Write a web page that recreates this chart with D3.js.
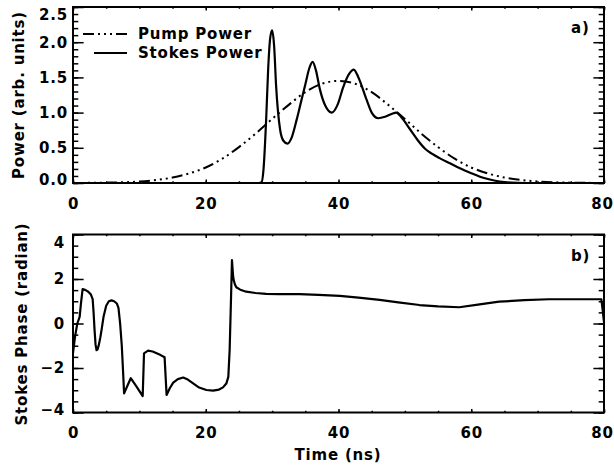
<!DOCTYPE html>
<html>
<head>
<meta charset="utf-8">
<script src="https://cdn.jsdelivr.net/npm/d3@7"></script>
<style>
  body { margin: 0; background: #fff; }
  svg text { font-family: "DejaVu Sans", sans-serif; font-weight: bold; font-size: 15px; letter-spacing: 0.8px; fill: #000; }
</style>
</head>
<body>
<svg id="chart" width="614" height="468"></svg>
<script>
var W = 614, H = 468;

// panel a) pump power (arb. units) vs time (ns)
var pumpTime = [0, 2.5, 5, 7.5, 10, 12.5, 15, 17.5, 20, 22.5, 25, 27.5, 30, 32.5, 35, 37.5, 40,
                42.5, 45, 47.5, 50, 52.5, 55, 57.5, 60, 62.5, 65, 67.5, 70, 72.5, 75, 77.5, 80];
var pumpPower = [0.001, 0.002, 0.005, 0.010, 0.021, 0.043, 0.078, 0.136, 0.22, 0.345, 0.51, 0.70, 0.91, 1.11, 1.29, 1.41, 1.45,
                 1.41, 1.29, 1.11, 0.91, 0.70, 0.51, 0.345, 0.22, 0.136, 0.078, 0.043, 0.021, 0.010, 0.005, 0.002, 0.001];

// panel a) stokes power
var stokesTime = [0, 28, 28.4, 28.7, 29.1, 29.4, 29.7, 30.0, 30.3, 30.6, 31.2, 31.7, 32.3, 33.0, 33.7, 34.4, 35.0,
                  35.6, 36.1, 36.6, 37.2, 38.0, 39.0, 39.9, 40.7, 41.6, 42.3, 43.0, 44.2, 45.0, 46.0, 47.0, 48.0,
                  48.7, 49.5, 50.8, 52.0, 53.0, 54.0, 55.3, 56.8, 58.3, 60, 61.3, 62.8, 64.3, 66, 68, 80];
var stokesPower = [0, 0, 0.01, 0.19, 0.9, 1.61, 2.05, 2.17, 1.95, 1.38, 0.76, 0.6, 0.56, 0.66, 0.9, 1.17, 1.40,
                   1.63, 1.72, 1.6, 1.33, 1.1, 1.00, 1.12, 1.36, 1.55, 1.61, 1.5, 1.19, 1.0, 0.92, 0.94, 0.98,
                   1.0, 0.93, 0.76, 0.6, 0.49, 0.42, 0.35, 0.28, 0.21, 0.14, 0.09, 0.05, 0.02, 0.005, 0, 0];

// panel b) stokes phase (radian)
var phaseTime = [0, 0.3, 0.65, 1.0, 1.2, 1.45, 1.9, 2.3, 2.7, 2.96, 3.1, 3.25, 3.4, 3.55, 3.7, 3.9, 4.1, 4.3,
                 4.6, 5.0, 5.4, 5.8, 6.2, 6.6, 6.85, 7.1, 7.35, 7.55, 7.7, 8.2, 8.7, 9.6, 10.5, 10.7, 11.3, 12.0,
                 12.6, 13.2, 13.8, 14.1, 14.6, 15.1, 15.8, 16.6, 17.3, 18.1, 19.0, 20.1, 21.1, 22.0, 22.6, 23.1,
                 23.4, 23.6, 23.8, 23.95, 24.1, 24.2, 24.4, 24.6, 25.2, 26.1, 27.5, 29.1, 31, 34.1, 37, 40.2, 43,
                 46.2, 49, 52.2, 55, 58.2, 61, 64.2, 68, 71.7, 76, 79.6, 79.8, 80];
var phase = [-1.33, -0.6, 0.0, 0.3, 0.9, 1.55, 1.5, 1.43, 1.3, 1.1, 0.5, -0.3, -0.95, -1.2, -1.17, -0.95, -0.65, -0.3,
             0.3, 0.8, 1.0, 1.04, 1.0, 0.9, 0.7, 0.0, -1.0, -2.2, -3.14, -2.8, -2.46, -2.85, -3.26, -1.34, -1.22, -1.26,
             -1.34, -1.42, -1.52, -3.21, -2.9, -2.66, -2.5, -2.43, -2.52, -2.69, -2.88, -2.99, -3.02, -2.97, -2.87, -2.7,
             -2.4, -1.19, 1.06, 2.85, 2.2, 1.96, 1.75, 1.63, 1.52, 1.43, 1.37, 1.33, 1.32, 1.32, 1.29, 1.24, 1.16,
             1.06, 0.95, 0.83, 0.77, 0.73, 0.85, 0.98, 1.05, 1.09, 1.09, 1.09, 0.6, 0.05];

var xTicks = [0, 20, 40, 60, 80];
var powerTicks = [0.0, 0.5, 1.0, 1.5, 2.0, 2.5];
var phaseTicks = [-4, -2, 0, 2, 4];
var legendNames = ["Pump Power", "Stokes Power"];

var svg = d3.select("#chart");
svg.append("rect").attr("width", W).attr("height", H).attr("fill", "#fff");

var left = 73, right = 604;
var pumpDash = "11,4,2,4,2,4,2,4";

function zip(xs, ys) { return xs.map(function(x, i) { return [x, ys[i]]; }); }

function drawPanel(top, bottom, yDomain, yMajor, yMinorStep, labelPad, name, id) {
	var x = d3.scaleLinear().domain([0, 80]).range([left, right]);
	var y = d3.scaleLinear().domain(yDomain).range([bottom, top]);
	var pw = right - left, ph = bottom - top;
	var yLen = 0.02 * pw, xLen = 0.02 * ph;

	var yMinor = d3.range(yDomain[0], yDomain[1] + 1e-9, yMinorStep);
	var xMinor = d3.range(0, 80.001, 5);

	var g = svg.append("g");

	// minor ticks
	g.append("g").attr("transform", "translate(" + left + ",0)")
		.call(d3.axisLeft(y).tickValues(yMinor).tickSize(-yLen / 2).tickFormat(""));
	g.append("g").attr("transform", "translate(" + right + ",0)")
		.call(d3.axisRight(y).tickValues(yMinor).tickSize(-yLen / 2).tickFormat(""));
	g.append("g").attr("transform", "translate(0," + bottom + ")")
		.call(d3.axisBottom(x).tickValues(xMinor).tickSize(-xLen / 2).tickFormat(""));
	g.append("g").attr("transform", "translate(0," + top + ")")
		.call(d3.axisTop(x).tickValues(xMinor).tickSize(-xLen / 2).tickFormat(""));

	// major ticks
	var yl = g.append("g").attr("transform", "translate(" + left + ",0)")
		.call(d3.axisLeft(y).tickValues(yMajor).tickSize(-yLen).tickPadding(labelPad)
			.tickFormat(yDomain[1] < 3 ? d3.format(".1f") : function(d) { return d < 0 ? "\u2212" + (-d) : d; }));
	g.append("g").attr("transform", "translate(" + right + ",0)")
		.call(d3.axisRight(y).tickValues(yMajor).tickSize(-yLen).tickFormat(""));
	var xl = g.append("g").attr("transform", "translate(0," + bottom + ")")
		.call(d3.axisBottom(x).tickValues(xTicks).tickSize(-xLen).tickPadding(15).tickFormat(d3.format("d")));
	g.append("g").attr("transform", "translate(0," + top + ")")
		.call(d3.axisTop(x).tickValues(xTicks).tickSize(-xLen).tickFormat(""));

	g.selectAll(".domain").remove();
	g.selectAll(".tick line").attr("stroke", "#000").attr("stroke-width", 1.5);
	g.selectAll("g").attr("font-family", null).attr("font-size", null);

	// keep end labels inside the frame, as the original plot does
	yl.selectAll(".tick text").attr("y", function(d) {
		if (d === yMajor[yMajor.length - 1]) return 8;
		if (d === yMajor[0]) return -3;
		return 0;
	});
	xl.selectAll(".tick text").attr("x", function(d) { return d === 80 ? -2 : 0; });

	// clip
	svg.append("clipPath").attr("id", id)
		.append("rect").attr("x", left).attr("y", top).attr("width", pw).attr("height", ph);

	// panel tag
	g.append("text").attr("x", 571).attr("y", top + 26).text(name);

	return { x: x, y: y, g: g, top: top, bottom: bottom };
}

// ---- panel a ----
var a = drawPanel(7, 183, [0, 2.5], powerTicks, 0.1, 5, "a)", "clipA");

var lineA = d3.line().x(function(d) { return a.x(d[0]); }).y(function(d) { return a.y(d[1]); })
	.curve(d3.curveMonotoneX);

svg.append("path").datum(zip(pumpTime, pumpPower))
	.attr("clip-path", "url(#clipA)")
	.attr("d", lineA).attr("fill", "none").attr("stroke", "#000")
	.attr("stroke-width", 2).attr("stroke-dasharray", pumpDash);

svg.append("path").datum(zip(stokesTime, stokesPower))
	.attr("clip-path", "url(#clipA)")
	.attr("d", lineA).attr("fill", "none").attr("stroke", "#000")
	.attr("stroke-width", 2.2).attr("stroke-linejoin", "round");

// legend
var legend = svg.append("g");
legend.append("line").attr("x1", 83).attr("x2", 127).attr("y1", 34).attr("y2", 34)
	.attr("stroke", "#000").attr("stroke-width", 2).attr("stroke-dasharray", pumpDash);
legend.append("line").attr("x1", 94).attr("x2", 127).attr("y1", 53).attr("y2", 53)
	.attr("stroke", "#000").attr("stroke-width", 2.2);
legend.selectAll("text").data(legendNames).enter().append("text")
	.attr("x", 138).attr("y", function(d, i) { return 39 + i * 19; })
	.text(function(d) { return d; });

// ---- panel b ----
var b = drawPanel(234.5, 412.5, [-4, 4], phaseTicks, 0.5, 8, "b)", "clipB");

var lineB = d3.line().x(function(d) { return b.x(d[0]); }).y(function(d) { return b.y(d[1]); });

svg.append("path").datum(zip(phaseTime, phase))
	.attr("clip-path", "url(#clipB)")
	.attr("d", lineB).attr("fill", "none").attr("stroke", "#000")
	.attr("stroke-width", 2.2).attr("stroke-linejoin", "round");

// frames
[a, b].forEach(function(p) {
	svg.append("rect").attr("x", left).attr("y", p.top)
		.attr("width", right - left).attr("height", p.bottom - p.top)
		.attr("fill", "none").attr("stroke", "#000").attr("stroke-width", 2);
});

// axis titles
svg.append("text").attr("transform", "translate(24,95) rotate(-90)")
	.attr("text-anchor", "middle").text("Power (arb. units)");
svg.append("text").attr("transform", "translate(27,324) rotate(-90)")
	.attr("text-anchor", "middle").text("Stokes Phase (radian)");
svg.append("text").attr("x", 338).attr("y", 460)
	.attr("text-anchor", "middle").text("Time (ns)");
</script>
</body>
</html>
